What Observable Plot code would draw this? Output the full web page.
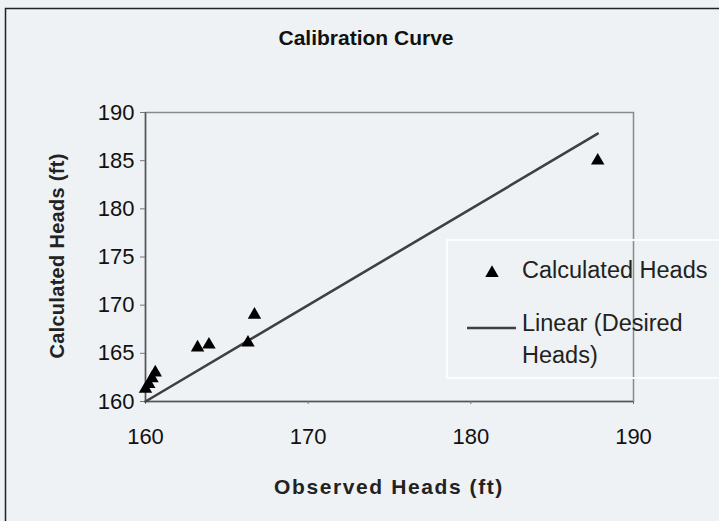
<!DOCTYPE html>
<html>
<head>
<meta charset="utf-8">
<script src="https://cdn.jsdelivr.net/npm/d3@7"></script>
<script src="https://cdn.jsdelivr.net/npm/@observablehq/plot@0.6"></script>
<style>
  html, body { margin: 0; padding: 0; background: #eef2f4; }
  #chart { position: relative; width: 719px; height: 521px; overflow: hidden; }
  svg { font-family: "Liberation Sans", Arial, sans-serif; }
</style>
</head>
<body>
<div id="chart"></div>
<script>
// ---- data ----
const observedHeads   = [160.0, 160.2, 160.4, 160.6, 163.2, 163.9, 166.3, 166.7, 187.8];
const calculatedHeads = [161.3, 161.8, 162.4, 163.0, 165.6, 165.9, 166.1, 169.0, 185.0];
const desiredX = [160, 187.8];
const desiredY = [160, 187.8];
const xTicks = [160, 170, 180, 190];
const yTicks = [160, 165, 170, 175, 180, 185, 190];
const titleText = "Calibration Curve";
const xLabel = "Observed Heads (ft)";
const yLabel = "Calculated Heads (ft)";
const legendLabels = ["Calculated Heads", "Linear (Desired", "Heads)"];

const points = observedHeads.map((o, i) => ({x: o, y: calculatedHeads[i]}));
const linePts = desiredX.map((x, i) => ({x, y: desiredY[i]}));

const W = 719, H = 521;
const plot = Plot.plot({
  width: W, height: H,
  marginLeft: 145, marginRight: 86, marginTop: 112, marginBottom: 120,
  style: {background: "transparent", fontSize: "22px", color: "#111", fontFamily: "'Liberation Sans', Arial, sans-serif"},
  x: {domain: [160, 190]},
  y: {domain: [160, 190]},
  marks: [
    Plot.frame({stroke: "#8a8a8a", strokeWidth: 1.5}),
    Plot.ruleX([160], {stroke: "#555", strokeWidth: 1.5}),
    Plot.ruleY([160], {stroke: "#555", strokeWidth: 1.5}),
    Plot.axisY({ticks: yTicks, tickSize: 5, tickPadding: 6, label: null, fontSize: 22, stroke: "#777"}),
    Plot.axisX({ticks: xTicks, tickSize: 3, tickPadding: 24, label: null, fontSize: 22, stroke: "#777"}),
    Plot.line(linePts, {x: "x", y: "y", stroke: "#404040", strokeWidth: 2.6}),
    Plot.dot(points, {x: "x", y: "y", symbol: "triangle", r: 5, fill: "#000", stroke: "none"})
  ]
});
document.getElementById("chart").appendChild(plot);

const svg = d3.select(plot);
// outer chart border
svg.insert("rect", ":first-child")
  .attr("x", 5.5).attr("y", 8.5).attr("width", 800).attr("height", 600)
  .attr("fill", "none").attr("stroke", "#222").attr("stroke-width", 1.5);

svg.append("text").text(titleText)
  .attr("x", 366).attr("y", 38).attr("text-anchor", "middle").attr("dy", "0.35em")
  .attr("font-size", 21).attr("font-weight", "bold").attr("fill", "#111");

svg.append("text").text(xLabel)
  .attr("x", 389).attr("y", 487).attr("text-anchor", "middle").attr("dy", "0.35em")
  .attr("font-size", 21).attr("font-weight", "bold").attr("letter-spacing", "1.6px").attr("fill", "#222");

svg.append("text").text(yLabel)
  .attr("transform", "translate(57,256) rotate(-90)")
  .attr("text-anchor", "middle").attr("dy", "0.35em")
  .attr("font-size", 20).attr("font-weight", "bold").attr("letter-spacing", "0.3px").attr("fill", "#222");

// legend
const lg = svg.append("g").attr("text-anchor", "start");
lg.append("rect").attr("x", 447).attr("y", 240).attr("width", 300).attr("height", 138)
  .attr("fill", "none").attr("stroke", "#fbfcfc").attr("stroke-width", 2);
lg.append("path").attr("d", d3.symbol(d3.symbolTriangle, Math.PI * 5 * 5)())
  .attr("transform", "translate(492,273)").attr("fill", "#000");
lg.append("text").text(legendLabels[0]).attr("x", 522).attr("y", 270).attr("dy", "0.35em")
  .attr("font-size", 23.5).attr("fill", "#222");
lg.append("line").attr("x1", 467).attr("x2", 516).attr("y1", 328).attr("y2", 328)
  .attr("stroke", "#404040").attr("stroke-width", 2.6);
lg.append("text").text(legendLabels[1]).attr("x", 522).attr("y", 323).attr("dy", "0.35em")
  .attr("font-size", 23.5).attr("fill", "#222");
lg.append("text").text(legendLabels[2]).attr("x", 522).attr("y", 355).attr("dy", "0.35em")
  .attr("font-size", 23.5).attr("fill", "#222");
</script>
</body>
</html>
